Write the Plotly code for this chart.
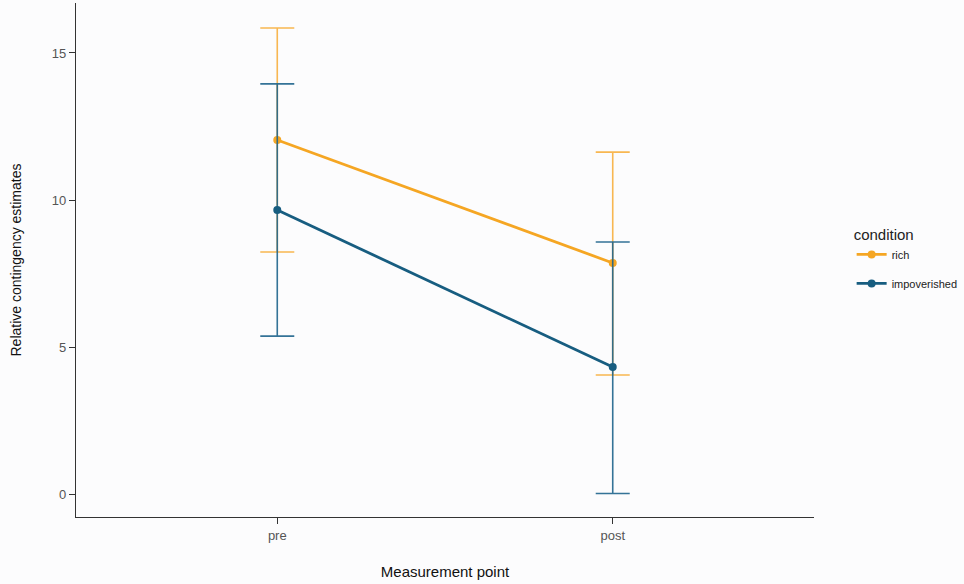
import plotly.graph_objects as go

points = ["pre", "post"]
rich_mean = [12.04, 7.86]
rich_upper = [15.85, 11.63]
rich_lower = [8.23, 4.05]
imp_mean = [9.66, 4.32]
imp_upper = [13.95, 8.57]
imp_lower = [5.37, 0.02]

ORANGE = "#F5A623"
ORANGE_EB = "rgba(247,170,50,0.85)"
BLUE = "#175D80"
BLUE_EB = "rgba(30,100,140,0.9)"

fig = go.Figure()

def add(name, mean, upper, lower, color, ebcolor):
    fig.add_trace(go.Scatter(
        x=points, y=mean, name=name, legendgroup=name, mode="lines+markers",
        line=dict(color=color, width=2.8),
        marker=dict(color=color, size=8),
        error_y=dict(type="data", symmetric=False,
                     array=[u - m for u, m in zip(upper, mean)],
                     arrayminus=[m - l for m, l in zip(mean, lower)],
                     color=ebcolor, thickness=1.6, width=17),
    ))

add("rich", rich_mean, rich_upper, rich_lower, ORANGE, ORANGE_EB)
add("impoverished", imp_mean, imp_upper, imp_lower, BLUE, BLUE_EB)

fig.update_layout(
    width=964, height=584,
    margin=dict(l=76, r=150, t=3, b=67, autoexpand=False),
    paper_bgcolor="#fcfcfd", plot_bgcolor="#fcfcfd",
    font=dict(family="Liberation Sans, Arial, sans-serif", color="#222222"),
    showlegend=True,
    legend=dict(
        title=dict(text="condition", font=dict(size=15, color="#222222")),
        x=1.051, xanchor="left", y=0.577, yanchor="top",
        font=dict(size=11, color="#222222"),
        bgcolor="rgba(0,0,0,0)", tracegroupgap=10, itemwidth=30,
    ),
    xaxis=dict(
        type="category", range=[-0.6, 1.6], automargin=False,
        showgrid=False, zeroline=False,
        showline=True, linecolor="#333333", linewidth=1.2,
        ticks="outside", ticklen=6, tickcolor="#333333", tickwidth=1.2,
        tickfont=dict(size=13, color="#555555"),
        title=dict(text="Measurement point", font=dict(size=15, color="#111111"), standoff=24),
    ),
    yaxis=dict(
        range=[-0.78, 16.7], automargin=False,
        tickvals=[0, 5, 10, 15],
        showgrid=False, zeroline=False,
        showline=True, linecolor="#333333", linewidth=1.2,
        ticks="outside", ticklen=6, tickcolor="#333333", tickwidth=1.2,
        tickfont=dict(size=13, color="#555555"),
        title=dict(text="Relative contingency estimates", font=dict(size=14, color="#111111"), standoff=26),
    ),
)

fig.write_html("out.html", config={"displayModeBar": False},
               post_script="document.body.style.margin='0';")
